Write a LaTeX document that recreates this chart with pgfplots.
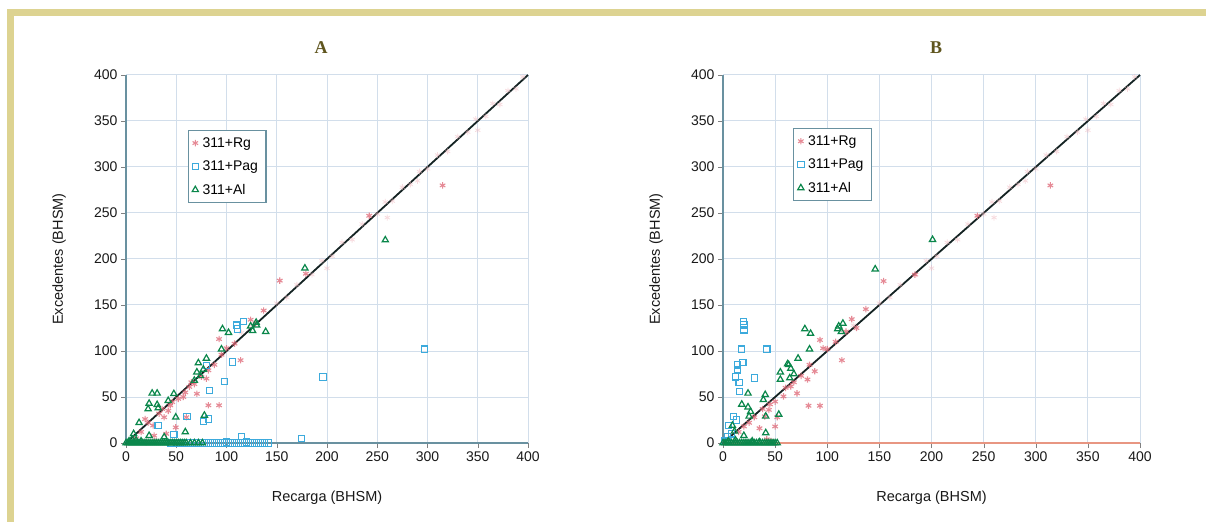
\documentclass[border=0pt]{standalone}
\usepackage{pgfplots}
\pgfplotsset{compat=1.18}
\usepackage{fontspec}
\setmainfont{Liberation Sans}
\newfontfamily\serif{Liberation Serif}

\definecolor{frame}{RGB}{221,211,145}
\definecolor{titlec}{RGB}{95,85,30}
\definecolor{gridc}{RGB}{210,222,235}
\definecolor{axisA}{RGB}{105,145,160}
\definecolor{axisB}{RGB}{232,150,130}
\definecolor{rgc}{RGB}{222,100,115}
\definecolor{pagc}{RGB}{60,170,220}
\definecolor{alc}{RGB}{10,135,75}
\definecolor{diag}{RGB}{20,35,35}

\pgfplotsset{
  panel/.style={
    scale only axis, height=368pt,
    xmin=0, xmax=400, ymin=0, ymax=400,
    axis lines*=left,
    xtick={0,50,...,400}, ytick={0,50,...,400},
    grid=major, major grid style={gridc, line width=1pt},
    tick align=outside, major tick length=5pt,
    /pgf/number format/assume math mode=true,
    ticklabel style={font=\fontsize{14}{16}\selectfont, text=black!90},
    xlabel={Recarga (BHSM)}, ylabel={Excedentes (BHSM)},
    every axis x label/.style={at={(axis description cs:0.5,0)}, anchor=center,
      yshift=-55pt, font=\fontsize{14.5}{17}\selectfont, text=black!90},
    every axis y label/.style={at={(axis description cs:0,0.5)}, rotate=90, anchor=center,
      yshift=67pt, font=\fontsize{14.5}{17}\selectfont, text=black!90},
    legend cell align=left,
    legend style={anchor=north west, draw=axisA, line width=1.2pt,
      font=\fontsize{14}{16}\selectfont, row sep=8pt, inner xsep=4pt, inner ysep=5pt,
      nodes={inner xsep=4pt}},
    clip=false,
  },
  rg/.style={only marks, mark=asterisk, mark size=3.2pt, color=rgc,
    mark options={draw=rgc, line width=1.1pt, opacity=0.75}},
  faint/.style={only marks, mark=asterisk, mark size=3pt, color=rgc!45,
    mark options={draw=rgc!45, line width=0.8pt, opacity=0.5}, forget plot},
  pag/.style={only marks, mark=square, mark size=3.2pt, color=pagc,
    mark options={draw=pagc, line width=1.1pt}},
  al/.style={only marks, mark=triangle, mark size=3.6pt, color=alc,
    mark options={draw=alc, line width=1.2pt}},
}

\begin{document}
\begin{tikzpicture}
\useasboundingbox (0,0) rectangle (1206pt,522pt);
\fill[white] (0,0) rectangle (1206pt,522pt);
\fill[frame] (7pt,506pt) rectangle (1206pt,513pt);
\fill[frame] (7pt,0pt) rectangle (14pt,513pt);

\node[font=\serif\bfseries\fontsize{18}{20}\selectfont, text=titlec] at (321pt,474pt) {A};
\node[font=\serif\bfseries\fontsize{18}{20}\selectfont, text=titlec] at (936pt,474pt) {B};

% ---------------- A ----------------
\begin{axis}[panel, width=402pt, at={(126pt,79pt)}, anchor=south west,
  axis line style={axisA, line width=1.2pt},
  legend style={at={(axis description cs:0.153,0.851)}}]
\addplot[faint] coordinates {
(150,152)(160,158)(170,172)(185,183)(195,198)(205,203)(215,218)(225,221)
(235,238)(250,249)(258,262)(265,263)(275,278)(283,281)(292,295)(300,298)
(310,313)(320,317)(330,333)(340,338)(348,352)(358,355)(365,369)(372,368)
(380,383)(388,385)(395,398)(115,120)(125,128)(200,190)(260,245)(290,285)(350,340)
};
\addplot[rg] coordinates {
(315,280)(242,247)(153,176.5)(179,184)(137,144)(124,134)(92.6,113)(114,90)
(82,41)(92.6,41)(80,70)(82,79)(70.5,53.5)(63,61)(57,50)(59,55)(49.5,17)
(38,28)(42,35)(46,44.5)(19,26)(27,19)(33,32)(36,37)(44,41)(52,48)(65,66)
(68,64)(75,72)(60,28)(40,10)(28,8)(15,12)(10,5)(22,22)(100,103)(108,108)
(129,130)(88,85)(95,96)(30,2)(20,1)
};
\addlegendentry{311+Rg}
\addplot[pag] coordinates {
(297,102)(196,71.6)(174.5,4.7)(115,7)(106,88)(98,67)(83,57)(82,26)(77,23.5)
(60.6,29)(47.6,9.4)(32,19)(110,128)(117,132)(111,124)(80,84)
(45,0)(50,0)(54,0)(58,0)(62,0)(66,0)(70,0)(74,0)(78,0)(82,0)(86,0)(90,0)
(94,0)(98,0)(102,0)(106,0)(110,0)(114,0)(118,0)(122,0)(126,0)(130,0)
(134,0)(138,0)(142,0)(100,1)(120,1)
};
\addlegendentry{311+Pag}
\addplot[al] coordinates {
(258,220.6)(178,190)(129.5,131)(126,122)(139,121)(96,124)(102,120)(95,102)
(80,92)(72,87)(70.5,77)(74,73)(68,68)(47.6,53.5)(26,54)(31,54)(23,43)(22,37)
(31,41.6)(32,38)(42,46)(49.5,28)(78,30)(59,12)(13,22)(7.6,10)(23,8)(38,6.5)
(77,80)(124,127)(130,128)(3,2)(6,4)(10,3)(15,2)
(0,0)(2,0)(4,0)(6,0)(8,0)(10,0)(12,0)(14,0)(16,0)(18,0)(20,0)(22,0)(24,0)
(26,0)(28,0)(30,0)(32,0)(34,0)(36,0)(38,0)(40,0)(42,0)(44,0)(46,0)(48,0)
(50,0)(52,0)(54,0)(56,0)(58,0)(60,0)(64,0)(68,0)(72,0)(76,0)
};
\addlegendentry{311+Al}
\addplot[diag, line width=1.8pt, forget plot] coordinates {(0,0)(400,400)};
\end{axis}

% ---------------- B ----------------
\begin{axis}[panel, width=417pt, at={(723pt,79pt)}, anchor=south west,
  x axis line style={axisB, line width=1.2pt},
  y axis line style={axisA, line width=1.2pt},
  legend style={at={(axis description cs:0.168,0.856)}}]
\addplot[faint] coordinates {
(150,152)(160,158)(170,172)(185,183)(195,198)(205,203)(215,218)(225,221)
(235,238)(250,249)(258,262)(265,263)(275,278)(283,281)(292,295)(300,298)
(310,313)(320,317)(330,333)(340,338)(348,352)(358,355)(365,369)(372,368)
(380,383)(388,385)(395,398)(115,120)(125,128)(200,190)(260,245)(290,285)(350,340)
};
\addplot[rg] coordinates {
(314,280)(244,247)(154,176)(184,183)(137,145.5)(123.5,134.6)(128,125)(93,112)
(96,103)(114,90)(82,40.5)(93,40.5)(81,69)(88,78)(71,54)(65,61.5)(58,50.7)
(50,18)(35,16)(44,36)(40,29)(50,45)(52,28)(83,85)(60,60)(68,66)(75,73)
(45,42)(38,37)(30,28)(25,22)(20,18)(15,12)(42,4)(46,2)(100,102)(108,110)(118,121)
};
\addlegendentry{311+Rg}
\addplot[pag] coordinates {
(19.5,132)(20,128.5)(20,123)(17.7,102)(42,102)(19,87.6)(14,85)(14,79.6)
(11.8,72)(30,70.6)(15.5,66)(16,56)(10,29)(13,25)(5.5,19)(4.4,7)(2,2)(8,10)
};
\addlegendentry{311+Pag}
\addplot[al] coordinates {
(201,221)(146,189)(111,127)(115,130)(113.5,121)(78.5,124)(84,119)(83,102)
(72,92)(63,85)(65,81)(55,77)(55,69)(68,75)(64,70.6)(24,54)(40.5,52.5)
(38.7,47)(18,42)(24,39)(26.5,34)(25,29)(41,29)(53.5,31)(41,11)(20,8)
(11,12.7)(9,19)(110,124)(62,86)
(0,0)(2,0)(4,0)(6,0)(8,0)(10,0)(12,0)(14,0)(16,0)(18,0)(20,0)(22,0)(24,0)
(26,0)(28,0)(30,0)(32,0)(34,0)(36,0)(38,0)(40,0)(42,0)(44,0)(46,0)(48,0)
(50,0)(52,0)(5,2)(12,3)(28,2)(35,1)
};
\addlegendentry{311+Al}
\addplot[diag, line width=1.8pt, forget plot] coordinates {(0,0)(400,400)};
\end{axis}
\end{tikzpicture}
\end{document}
